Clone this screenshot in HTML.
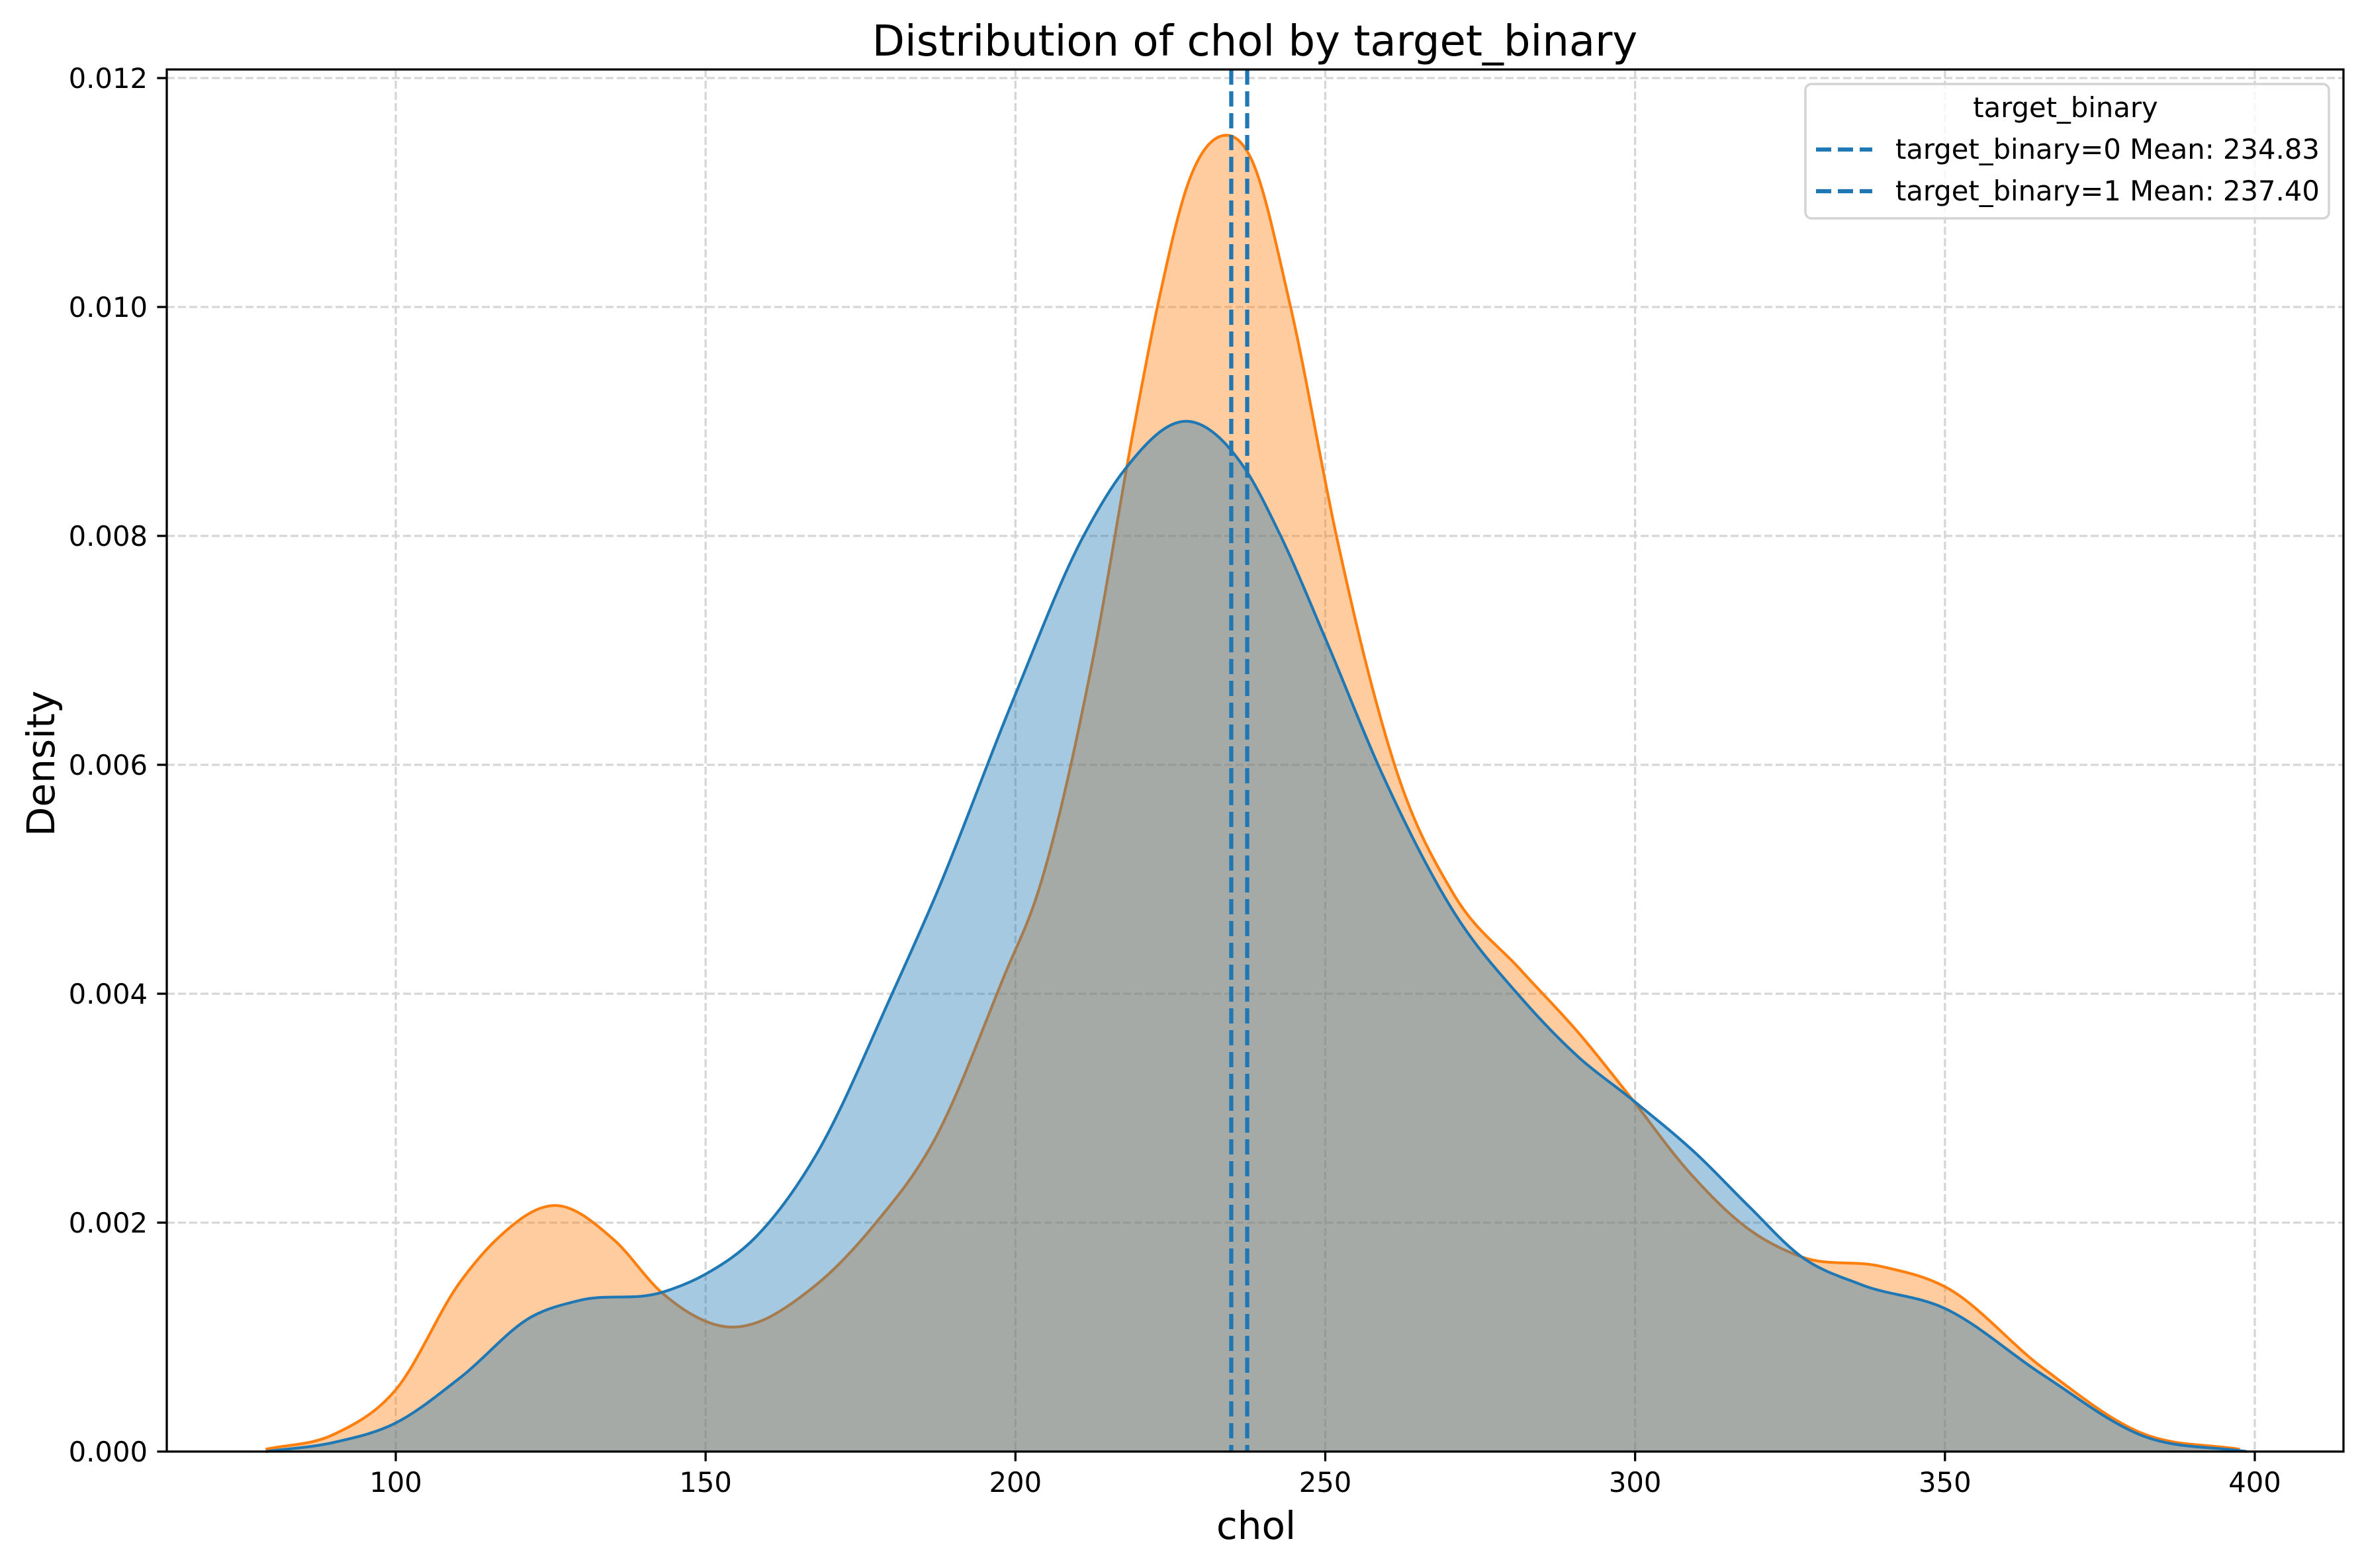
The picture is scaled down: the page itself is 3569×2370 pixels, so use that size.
<!DOCTYPE html>
<html><head><meta charset="utf-8"><style>html,body{margin:0;padding:0;background:#fff}svg{display:block}text{font-family:"DejaVu Sans","Liberation Sans",sans-serif}</style></head>
<body>
<svg id="chart" width="3569" height="2370" viewBox="0 0 3569 2370" xmlns="http://www.w3.org/2000/svg">
<rect x="0" y="0" width="3569" height="2370" fill="#fff"/>
<g id="grid"></g>
<g id="series"></g>
<g id="means"></g>
<g id="axes"></g>
<text x="1896" y="84" font-size="64" text-anchor="middle">Distribution of chol by target_binary</text>
<text x="1898" y="2326" font-size="58" text-anchor="middle">chol</text>
<text transform="translate(82,1154) rotate(-90)" font-size="58" text-anchor="middle">Density</text>
<g>
<rect x="2728" y="127" width="791" height="203" rx="9" fill="#fff" fill-opacity="0.8" stroke="#d4d4d4" stroke-width="3.5"/>
<text x="3121" y="177" font-size="41.7" text-anchor="middle">target_binary</text>
<line x1="2744" y1="226" x2="2829" y2="226" stroke="#1f77b4" stroke-width="6.25" stroke-dasharray="23,10"/>
<text x="2864" y="240" font-size="41.7">target_binary=0 Mean: 234.83</text>
<line x1="2744" y1="289" x2="2829" y2="289" stroke="#1f77b4" stroke-width="6.25" stroke-dasharray="23,10"/>
<text x="2864" y="303" font-size="41.7">target_binary=1 Mean: 237.40</text>
</g>
</svg>
<script>
const xTicks = [100,150,200,250,300,350,400];
const yTicks = [0,0.002,0.004,0.006,0.008,0.010,0.012];
const yTickLabels = ["0.000","0.002","0.004","0.006","0.008","0.010","0.012"];
const blueX = [79,90,100,110.5,122,129.6,142.9,150,158.2,167.7,180.1,187.3,199.5,211,217.5,228.1,237,242.8,250.2,259.1,270.9,281.5,291,299.4,309.9,318.4,326.9,336.4,350,365.8,381.8,398.7];
const blueY = [0,0.00008,0.00025,0.00065,0.00118,0.00132,0.00139,0.00155,0.00188,0.00258,0.0040,0.00488,0.00655,0.0080,0.00857,0.0090,0.00859,0.0080,0.00708,0.00593,0.0047,0.00397,0.00344,0.00308,0.0026,0.00214,0.0017,0.00146,0.00125,0.00067,0.00014,0];
const orangeX = [79,90,100,110.5,116.2,125.7,135.2,142.9,153.4,167.7,177.2,186.8,198.3,203.6,212.6,219.1,223.1,228,233,238,244.4,251.8,256.7,261.6,270.6,281.5,291,298.9,308.9,318.4,326.9,339.5,350,365.8,381.8,397.6];
const orangeY = [0.00002,0.00015,0.00054,0.00149,0.00185,0.00215,0.00185,0.00139,0.00109,0.00145,0.00198,0.00271,0.00417,0.00488,0.00695,0.00894,0.01005,0.0111,0.01149,0.0113,0.0100,0.0080,0.00686,0.00593,0.00488,0.00421,0.00365,0.00312,0.00243,0.00194,0.0017,0.00162,0.00144,0.00073,0.00016,0.00002];
const means = [234.83, 237.40];

const NS = "http://www.w3.org/2000/svg";
const L = 252, R = 3541, T = 105, B = 2194;
function sx(v){ return 598 + (v - 100) * (3407 - 598) / 300; }
function sy(v){ return B - v / 0.012 * (B - 118); }
function mk(tag, attrs, parent){ const e = document.createElementNS(NS, tag); for (const k in attrs) e.setAttribute(k, attrs[k]); parent.appendChild(e); return e; }
function smooth(xs, ys){
  const n = xs.length;
  const px = xs.map(sx), py = ys.map(sy);
  const m = [];
  for (let i=0;i<n;i++){
    if (i===0) m.push((py[1]-py[0])/(px[1]-px[0]));
    else if (i===n-1) m.push((py[n-1]-py[n-2])/(px[n-1]-px[n-2]));
    else {
      const d0=(py[i]-py[i-1])/(px[i]-px[i-1]), d1=(py[i+1]-py[i])/(px[i+1]-px[i]);
      const h0=px[i]-px[i-1], h1=px[i+1]-px[i];
      m.push((d0*h1+d1*h0)/(h0+h1));
    }
  }
  let d = "M" + px[0] + "," + py[0];
  for (let i=0;i<n-1;i++){
    const h = px[i+1]-px[i];
    d += " C"+(px[i]+h/3)+","+(py[i]+m[i]*h/3)+" "+(px[i+1]-h/3)+","+(py[i+1]-m[i+1]*h/3)+" "+px[i+1]+","+py[i+1];
  }
  return d;
}
const grid = document.getElementById('grid');
xTicks.forEach(v=>{
  const g = mk('line',{x1:sx(v),x2:sx(v),y1:T,y2:B,stroke:'#d6d6d6','stroke-width':3.3,'stroke-dasharray':'12,5'},grid);
  
  
});
yTicks.forEach(v=>{
  const g = mk('line',{x1:L,x2:R,y1:sy(v),y2:sy(v),stroke:'#d6d6d6','stroke-width':3.3,'stroke-dasharray':'12,5'},grid);
  
  
});
const ser = document.getElementById('series');
function drawSeries(xs, ys, fill, stroke, name){
  const line = smooth(xs, ys);
  const area = line + " L" + sx(xs[xs.length-1]) + "," + B + " L" + sx(xs[0]) + "," + B + " Z";
  const a = mk('path',{d:area,fill:fill,'fill-opacity':0.4,stroke:'none'},ser);
  
  
  const l = mk('path',{d:line,fill:'none',stroke:stroke,'stroke-width':4.2},ser);
  
  
}
drawSeries(orangeX, orangeY, '#ff7f0e', '#ff7f0e', 'target-1-kde');
drawSeries(blueX, blueY, '#1f77b4', '#1f77b4', 'target-0-kde');
const mg = document.getElementById('means');
means.forEach((m,i)=>{
  const l = mk('line',{x1:sx(m),x2:sx(m),y1:T,y2:B,stroke:'#1f77b4','stroke-width':6.25,'stroke-dasharray':'23,10'},mg);
  
  
});
const ax = document.getElementById('axes');
const frame = mk('rect',{x:L,y:T,width:R-L,height:B-T,fill:'none',stroke:'#000','stroke-width':3.3},ax);


xTicks.forEach(v=>{
  const t = mk('line',{x1:sx(v),x2:sx(v),y1:B,y2:B+14.6,stroke:'#000','stroke-width':3.3},ax);
  
  
  const tx = mk('text',{x:sx(v),y:B+61,'font-size':41.7,'text-anchor':'middle'},ax);
  tx.textContent = String(v);
  
  
});
yTicks.forEach((v,i)=>{
  const t = mk('line',{x1:L-14.6,x2:L,y1:sy(v),y2:sy(v),stroke:'#000','stroke-width':3.3},ax);
  
  
  const tx = mk('text',{x:L-29,y:sy(v)+15,'font-size':41.7,'text-anchor':'end'},ax);
  tx.textContent = yTickLabels[i];
  
  
});
</script>
</body></html>
